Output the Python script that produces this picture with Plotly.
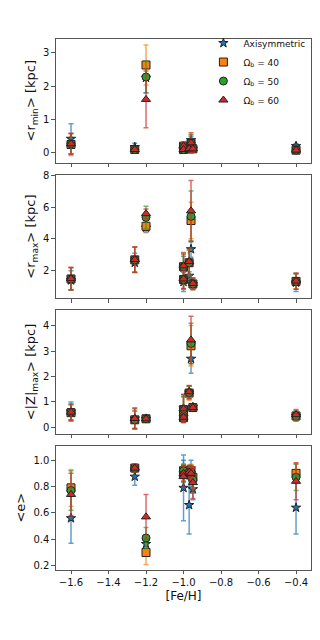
import plotly.graph_objects as go
from plotly.subplots import make_subplots

# [Fe/H] of each cluster
feh = [-1.6, -1.26, -1.2, -1.0, -1.0, -0.97, -0.96, -0.95, -0.4]

# <r_min> [kpc]
rmin_axi = [0.42, 0.17, 2.25, 0.12, 0.10, 0.15, 0.38, 0.12, 0.20]
rmin_axi_err = [0.45, 0.12, 0.45, 0.10, 0.08, 0.10, 0.10, 0.08, 0.08]
rmin_40 = [0.25, 0.10, 2.63, 0.20, 0.10, 0.12, 0.28, 0.12, 0.08]
rmin_40_err = [0.33, 0.05, 0.60, 0.12, 0.05, 0.06, 0.25, 0.10, 0.05]
rmin_50 = [0.27, 0.10, 2.27, 0.20, 0.10, 0.12, 0.30, 0.12, 0.08]
rmin_50_err = [0.30, 0.05, 0.48, 0.12, 0.05, 0.06, 0.25, 0.10, 0.05]
rmin_60 = [0.27, 0.10, 1.60, 0.20, 0.10, 0.12, 0.30, 0.12, 0.08]
rmin_60_err = [0.32, 0.05, 0.85, 0.12, 0.05, 0.06, 0.30, 0.10, 0.05]

# <r_max> [kpc]
rmax_axi = [1.40, 2.50, 4.70, 2.20, 1.30, 1.68, 3.35, 1.15, 1.25]
rmax_axi_err = [0.60, 0.60, 0.30, 0.70, 0.60, 0.25, 0.50, 0.35, 0.55]
rmax_40 = [1.48, 2.68, 4.79, 2.25, 1.45, 2.50, 5.15, 1.17, 1.33]
rmax_40_err = [0.70, 0.80, 0.35, 0.80, 0.60, 0.80, 1.15, 0.35, 0.50]
rmax_50 = [1.48, 2.68, 5.35, 2.25, 1.45, 2.50, 5.41, 1.17, 1.33]
rmax_50_err = [0.70, 0.80, 0.70, 0.80, 0.60, 0.80, 1.60, 0.35, 0.50]
rmax_60 = [1.50, 2.70, 5.58, 2.30, 1.48, 2.57, 5.76, 1.20, 1.35]
rmax_60_err = [0.72, 0.80, 0.30, 0.85, 0.60, 0.85, 1.90, 0.35, 0.50]

# <|Z|_max> [kpc]
zmax_axi = [0.62, 0.35, 0.34, 0.75, 0.40, 1.37, 2.70, 0.80, 0.45]
zmax_axi_err = [0.38, 0.42, 0.05, 0.55, 0.15, 0.25, 0.57, 0.10, 0.20]
zmax_40 = [0.58, 0.30, 0.34, 0.70, 0.38, 1.35, 3.21, 0.78, 0.45]
zmax_40_err = [0.30, 0.35, 0.05, 0.50, 0.15, 0.28, 0.80, 0.10, 0.18]
zmax_50 = [0.60, 0.30, 0.34, 0.72, 0.38, 1.37, 3.30, 0.78, 0.45]
zmax_50_err = [0.30, 0.35, 0.05, 0.50, 0.15, 0.25, 0.80, 0.10, 0.20]
zmax_60 = [0.60, 0.35, 0.34, 0.73, 0.40, 1.40, 3.44, 0.78, 0.50]
zmax_60_err = [0.32, 0.38, 0.05, 0.55, 0.15, 0.25, 0.93, 0.10, 0.20]

# <e>
e_axi = [0.56, 0.875, 0.365, 0.79, 0.90, 0.66, 0.90, 0.78, 0.64]
e_axi_err = [0.19, 0.065, 0.03, 0.25, 0.10, 0.22, 0.10, 0.08, 0.20]
e_40 = [0.79, 0.94, 0.30, 0.92, 0.90, 0.91, 0.92, 0.87, 0.90]
e_40_err = [0.14, 0.03, 0.09, 0.05, 0.06, 0.05, 0.05, 0.08, 0.075]
e_50 = [0.77, 0.94, 0.41, 0.92, 0.89, 0.91, 0.91, 0.85, 0.87]
e_50_err = [0.15, 0.03, 0.08, 0.05, 0.06, 0.05, 0.05, 0.10, 0.10]
e_60 = [0.74, 0.94, 0.57, 0.90, 0.875, 0.91, 0.90, 0.83, 0.84]
e_60_err = [0.16, 0.03, 0.17, 0.06, 0.08, 0.05, 0.06, 0.12, 0.14]

names = ["Axisymmetric", "Ω<sub>b</sub> = 40", "Ω<sub>b</sub> = 50", "Ω<sub>b</sub> = 60"]
colors = ["#1f77b4", "#ff7f0e", "#2ca02c", "#d62728"]
err_colors = ["rgba(31,119,180,0.7)", "rgba(255,127,14,0.7)", "rgba(44,160,44,0.7)", "rgba(214,39,40,0.7)"]
symbols = ["star", "square", "circle", "triangle-up"]
sizes = [7, 8, 8, 8]

panels = [
    ([rmin_axi, rmin_40, rmin_50, rmin_60], [rmin_axi_err, rmin_40_err, rmin_50_err, rmin_60_err]),
    ([rmax_axi, rmax_40, rmax_50, rmax_60], [rmax_axi_err, rmax_40_err, rmax_50_err, rmax_60_err]),
    ([zmax_axi, zmax_40, zmax_50, zmax_60], [zmax_axi_err, zmax_40_err, zmax_50_err, zmax_60_err]),
    ([e_axi, e_40, e_50, e_60], [e_axi_err, e_40_err, e_50_err, e_60_err]),
]

fig = make_subplots(rows=4, cols=1, shared_xaxes=True)

for row, (ys, errs) in enumerate(panels, start=1):
    for k in range(4):
        fig.add_trace(go.Scatter(
            x=feh, y=ys[k], mode="markers", name=names[k],
            showlegend=(row == 1),
            marker=dict(symbol=symbols[k], size=sizes[k], color=colors[k],
                        line=dict(color="#222222", width=1)),
            error_y=dict(type="data", array=errs[k], color=err_colors[k],
                         thickness=1.5, width=2.5),
        ), row=row, col=1)

domains = [[0.7645, 0.961], [0.5505, 0.745], [0.336, 0.531], [0.1208, 0.317]]
yranges = [[-0.3, 3.42], [0.28, 8.0], [-0.245, 4.6], [0.17, 1.11]]
ytitles = ["&lt;r<sub>min</sub>&gt; [kpc]", "&lt;r<sub>max</sub>&gt; [kpc]",
           "&lt;|Z|<sub>max</sub>&gt; [kpc]", "&lt;e&gt;"]
ytickvals = [[0, 1, 2, 3], [2, 4, 6, 8], [0, 1, 2, 3, 4], [0.2, 0.4, 0.6, 0.8, 1.0]]
yticktext = [["0", "1", "2", "3"], ["2", "4", "6", "8"], ["0", "1", "2", "3", "4"],
             ["0.2", "0.4", "0.6", "0.8", "1.0"]]

xtickvals = [-1.6, -1.4, -1.2, -1.0, -0.8, -0.6, -0.4]
xticktext = ["\u22121.6", "\u22121.4", "\u22121.2", "\u22121.0", "\u22120.8", "\u22120.6", "\u22120.4"]

axis_style = dict(showline=True, linecolor="#555555", linewidth=1.2, mirror=True,
                  ticks="outside", ticklen=3.5, tickcolor="#555555", showgrid=False,
                  zeroline=False, tickfont=dict(size=10, color="#111111"))

for i in range(4):
    fig.update_yaxes(domain=domains[i], range=yranges[i], tickvals=ytickvals[i],
                     ticktext=yticktext[i], title=dict(text=ytitles[i], font=dict(size=13), standoff=4),
                     row=i + 1, col=1, **axis_style)
    fig.update_xaxes(range=[-1.68, -0.32], tickvals=xtickvals, ticktext=xticktext,
                     showticklabels=(i == 3), domain=[0.15, 0.947],
                     row=i + 1, col=1, **axis_style)

fig.update_xaxes(title=dict(text="[Fe/H]", font=dict(size=12), standoff=4), row=4, col=1)

fig.update_layout(
    width=320, height=640,
    margin=dict(l=0, r=0, t=0, b=0),
    plot_bgcolor="white", paper_bgcolor="white",
    font=dict(family="DejaVu Sans", color="#111111"),
    legend=dict(x=0.945, y=0.977, xanchor="right", yanchor="top",
                bgcolor="rgba(0,0,0,0)", font=dict(size=9), itemsizing="trace",
                tracegroupgap=0),
)

fig.write_html("out.html")
